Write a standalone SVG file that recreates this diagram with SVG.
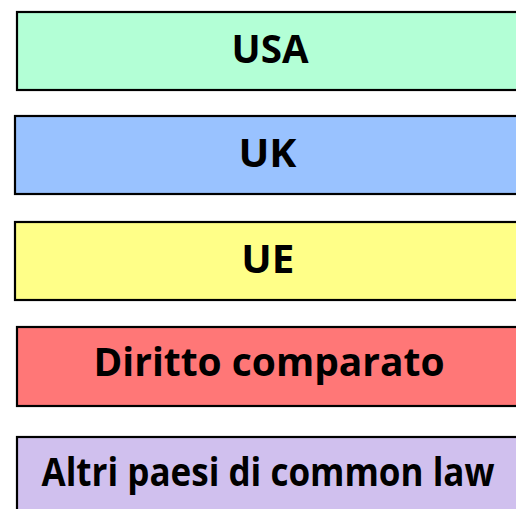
<svg xmlns="http://www.w3.org/2000/svg" width="516" height="509" viewBox="0 0 516 509">
<style>
.box{stroke:#000;stroke-width:2.2}
.lbl{font-family:"Open Sans","Noto Sans","DejaVu Sans",sans-serif;font-weight:bold;font-size:40px;text-anchor:middle;fill:#000}
</style>
<rect width="516" height="509" fill="#fff"/>
<g id="usa"><rect class="box" x="17" y="12" width="510" height="78" fill="#b3ffd6"/><text class="lbl" x="270" y="62.5" textLength="77" lengthAdjust="spacingAndGlyphs">USA</text></g>
<g id="uk"><rect class="box" x="15" y="116" width="510" height="78" fill="#99c2ff"/><text class="lbl" x="267.5" y="167" textLength="58" lengthAdjust="spacingAndGlyphs">UK</text></g>
<g id="ue"><rect class="box" x="15" y="222" width="510" height="78" fill="#ffff88"/><text class="lbl" x="267.7" y="273" textLength="53" lengthAdjust="spacingAndGlyphs">UE</text></g>
<g id="diritto"><rect class="box" x="17" y="327" width="510" height="79" fill="#ff7777"/><text class="lbl" x="269" y="376" textLength="351" lengthAdjust="spacingAndGlyphs">Diritto comparato</text></g>
<g id="altri"><rect class="box" x="17" y="437" width="510" height="90" fill="#d0c0ee"/><text class="lbl" x="268" y="486" font-size="37" textLength="453" lengthAdjust="spacingAndGlyphs">Altri paesi di common law</text></g>
</svg>
